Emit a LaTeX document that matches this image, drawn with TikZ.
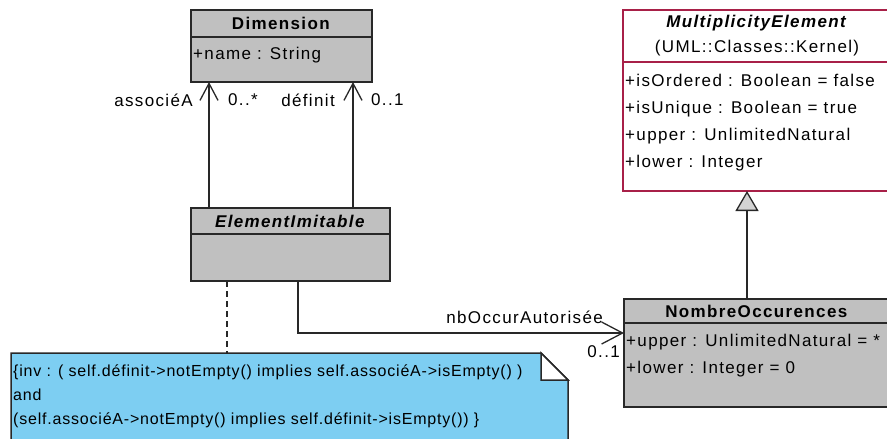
\documentclass[tikz,border=0pt]{standalone}
\usepackage{fontspec}
\setmainfont{Liberation Sans}[LetterSpace=8]
\newfontfamily\notefont{Liberation Sans}[LetterSpace=5]
\usepackage{xcolor}
\usetikzlibrary{arrows.meta,positioning}
\definecolor{clsgray}{RGB}{192,192,192}
\definecolor{edgegray}{RGB}{40,40,40}
\definecolor{kernelred}{RGB}{168,32,72}
\definecolor{notefill}{RGB}{125,206,242}
\definecolor{tripale}{RGB}{211,211,211}

\begin{document}
\begin{tikzpicture}[
    x=1pt, y=-1pt,
    cls/.style={draw=edgegray, line width=1.5pt, fill=clsgray, inner sep=0pt, outer sep=0pt, align=center, font=\fontsize{17}{25}\selectfont},
    kernel/.style={cls, draw=kernelred, fill=white},
    attr/.style={inner sep=0pt, align=left, anchor=west, font=\fontsize{17}{27}\selectfont},
    lbl/.style={inner sep=0pt, font=\fontsize{17}{20}\selectfont},
    notetxt/.style={inner sep=0pt, align=left, anchor=west, font=\notefont\fontsize{16}{24}\selectfont},
    assoc/.style={-{Straight Barb[length=17pt,width=18pt]}, line width=1.3pt, draw=edgegray},
    gen/.style={-{Triangle[length=20pt,width=23pt,fill=tripale]}, line width=1.3pt, draw=edgegray},
    anchorline/.style={dash pattern=on 6pt off 4pt, line width=1.3pt, draw=edgegray},
    note/.style={draw=edgegray, line width=1.5pt, fill=notefill},
    fold/.style={draw=edgegray, line width=1.5pt, fill=white}
  ]
    \useasboundingbox (0,0) rectangle (887,439);
    \clip (0,0) rectangle (887,439);

    \node[cls, minimum width=181pt, minimum height=27pt, anchor=north west] (dimH) at (191,10) {\textbf{Dimension}};
    \node[cls, minimum width=181pt, minimum height=45pt, below=0pt of dimH] (dimB) {};
    \node[attr] (dimAttr) at ([shift={(2pt,4.5pt)}]dimB.west) {+name : String};

    \node[cls, minimum width=199pt, minimum height=26pt, anchor=north west] (eltH) at (191,208) {\textbf{\textit{ElementImitable}}};
    \node[cls, minimum width=199pt, minimum height=47pt, below=0pt of eltH] (eltB) {};

    \node[kernel, minimum width=268pt, minimum height=52pt, anchor=north west] (multH) at (623,10) {\textbf{\textit{MultiplicityElement}}\\(UML::Classes::Kernel)};
    \node[kernel, minimum width=268pt, minimum height=129pt, below=0pt of multH] (multB) {};
    \node[attr] (multAttr) at ([shift={(2pt,4pt)}]multB.west) {+isOrdered : Boolean = false\\+isUnique : Boolean = true\\+upper : UnlimitedNatural\\+lower : Integer};

    \node[cls, minimum width=266pt, minimum height=24pt, anchor=north west] (nbH) at (624,299) {\textbf{NombreOccurences}};
    \node[cls, minimum width=266pt, minimum height=84pt, below=0pt of nbH] (nbB) {};
    \node[attr] (nbAttr) at ([shift={(2pt,9.5pt)}]nbB.west) {+upper : UnlimitedNatural = *\\+lower : Integer = 0};

    \coordinate (assocEnd) at ([xshift=18pt]dimB.south west);
    \coordinate (defEnd) at ([xshift=-19pt]dimB.south east);
    \coordinate (occEnd) at ([yshift=-10pt]nbH.south west);
    \coordinate (genTop) at ([xshift=-10pt]multB.south);
    \coordinate (noteTop) at (227,353);

    \draw[note] (11,353) -- (541,353) -- (568,380) -- (568,450) -- (11,450) -- cycle;
    \draw[fold] (541,353) -- (541,380) -- (568,380) -- cycle;
    \node[notetxt] (inv) at (13,396) {\{inv : ( self.définit->notEmpty() implies self.associéA->isEmpty() )\\and\\(self.associéA->notEmpty() implies self.définit->isEmpty()) \}};

    \draw[assoc] (eltH.north -| assocEnd) -- (assocEnd);
    \draw[assoc] (eltH.north -| defEnd) -- (defEnd);
    \draw[assoc, -{Straight Barb[length=21pt,width=22pt]}] ([xshift=7.5pt]eltB.south) |- (occEnd);
    \draw[gen] (nbH.north -| genTop) -- (genTop);
    \draw[anchorline] ([xshift=36pt]eltB.south west) -- (noteTop);

    \node[lbl, anchor=east] (roleA) at ([shift={(-16pt,-18pt)}]assocEnd) {associéA};
    \node[lbl, anchor=west] (multA) at ([shift={(19pt,-18pt)}]assocEnd) {0..*};
    \node[lbl, anchor=east] (roleD) at ([shift={(-18pt,-18pt)}]defEnd) {définit};
    \node[lbl, anchor=west] (multD) at ([shift={(18pt,-18pt)}]defEnd) {0..1};
    \node[lbl, anchor=east] (roleO) at ([shift={(-21pt,16pt)}]occEnd) {nbOccurAutorisée};
    \node[lbl, anchor=east] (multO) at ([shift={(-4pt,-19pt)}]occEnd) {0..1};
  \end{tikzpicture}
\end{document}
